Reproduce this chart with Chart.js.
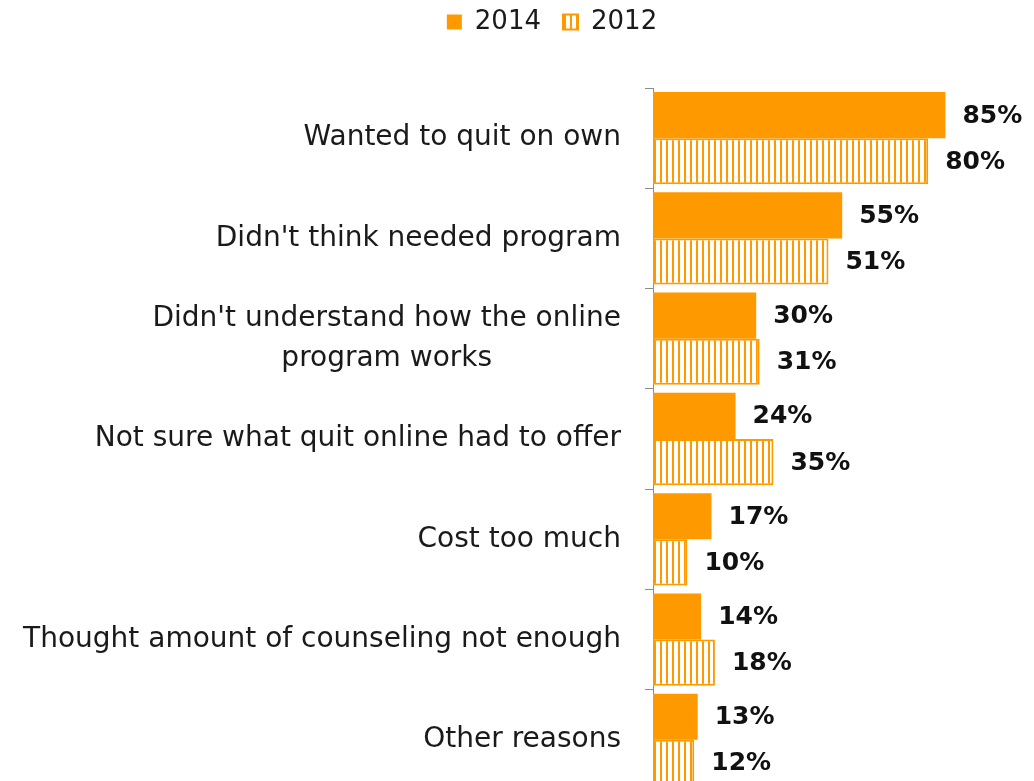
<!DOCTYPE html>
<html lang="en">
<head>
  <meta charset="UTF-8">
  <title>Reasons for not using quit online</title>
  <script src="https://cdn.jsdelivr.net/npm/chart.js"></script>
  <style>
    html, body {
      margin: 0;
      padding: 0;
      background: #ffffff;
      overflow: hidden;
    }
    #chartAlasan {
      display: block;
    }
  </style>
</head>
<body>

<canvas id="chartAlasan" width="1034" height="790"></canvas>

<script>
  const categories = [
    "Wanted to quit on own",
    "Didn't think needed program",
    ["Didn't understand how the online", "program works"],
    "Not sure what quit online had to offer",
    "Cost too much",
    "Thought amount of counseling not enough",
    "Other reasons"
  ];
  const seriesNames = ["2014", "2012"];
  const values2014 = [85, 55, 30, 24, 17, 14, 13];
  const values2012 = [80, 51, 31, 35, 10, 18, 12];

  const ORANGE = "#FF9900";
  const FONT = "'DejaVu Sans', sans-serif";

  // vertical stripes for the 2012 bars
  function buatPola() {
    const c = document.createElement("canvas");
    c.width = 6;
    c.height = 6;
    const ctx = c.getContext("2d");
    ctx.fillStyle = "#ffffff";
    ctx.fillRect(0, 0, 6, 6);
    ctx.fillStyle = ORANGE;
    ctx.fillRect(0, 0, 2, 6);
    return ctx.createPattern(c, "repeat");
  }
  const pola = buatPola();

  // category names, right-aligned block with centred lines
  const labelKategori = {
    id: "labelKategori",
    afterDraw(chart) {
      const ctx = chart.ctx;
      const y = chart.scales.y;
      ctx.save();
      ctx.font = "28px " + FONT;
      ctx.fillStyle = "#1a1a1a";
      ctx.textAlign = "center";
      ctx.textBaseline = "middle";
      categories.forEach((cat, i) => {
        const lines = Array.isArray(cat) ? cat : [cat];
        const lebar = Math.max(...lines.map(l => ctx.measureText(l).width));
        const cx = 621 - lebar / 2;
        const cy = y.getPixelForValue(i);
        const lh = 40;
        lines.forEach((l, k) => {
          ctx.fillText(l, cx, cy + (k - (lines.length - 1) / 2) * lh);
        });
      });
      ctx.restore();
    }
  };

  // value labels at the end of each bar
  const labelNilai = {
    id: "labelNilai",
    afterDatasetsDraw(chart) {
      const ctx = chart.ctx;
      ctx.save();
      ctx.font = "bold 25px " + FONT;
      ctx.fillStyle = "#111111";
      ctx.textAlign = "left";
      ctx.textBaseline = "middle";
      chart.data.datasets.forEach((ds, di) => {
        chart.getDatasetMeta(di).data.forEach((bar, i) => {
          ctx.fillText(ds.data[i] + "%", bar.x + 17, bar.y + 1);
        });
      });
      ctx.restore();
    }
  };

  // extra space under the legend
  const jarakLegend = {
    id: "jarakLegend",
    beforeInit(chart) {
      const fitAsli = chart.legend.fit;
      chart.legend.fit = function () {
        fitAsli.bind(chart.legend)();
        this.height = 101;
      };
    }
  };

  new Chart(document.getElementById("chartAlasan"), {
    type: "bar",
    data: {
      labels: categories,
      datasets: [
        {
          label: seriesNames[0],
          data: values2014,
          backgroundColor: ORANGE,
          borderColor: ORANGE,
          borderWidth: 0,
          categoryPercentage: 0.92,
          barPercentage: 1
        },
        {
          label: seriesNames[1],
          data: values2012,
          backgroundColor: pola,
          borderColor: ORANGE,
          borderWidth: 2,
          borderSkipped: false,
          categoryPercentage: 0.92,
          barPercentage: 1
        }
      ]
    },
    options: {
      indexAxis: "y",
      responsive: false,
      animation: false,
      layout: { padding: { left: 107, right: 37, top: -13, bottom: 0 } },
      plugins: {
        tooltip: { enabled: false },
        legend: {
          position: "top",
          labels: {
            font: { family: FONT, size: 26 },
            color: "#1a1a1a",
            boxWidth: 15,
            boxHeight: 15,
            padding: 22
          }
        }
      },
      scales: {
        x: { display: false, min: 0, max: 100 },
        y: {
          ticks: { display: false },
          grid: {
            drawOnChartArea: false,
            color: "#8c8c8c",
            tickLength: 8
          },
          border: { color: "#8c8c8c", width: 1 },
          afterFit(scale) { scale.width = 546; }
        }
      }
    },
    plugins: [jarakLegend, labelKategori, labelNilai]
  });
</script>

</body>
</html>
